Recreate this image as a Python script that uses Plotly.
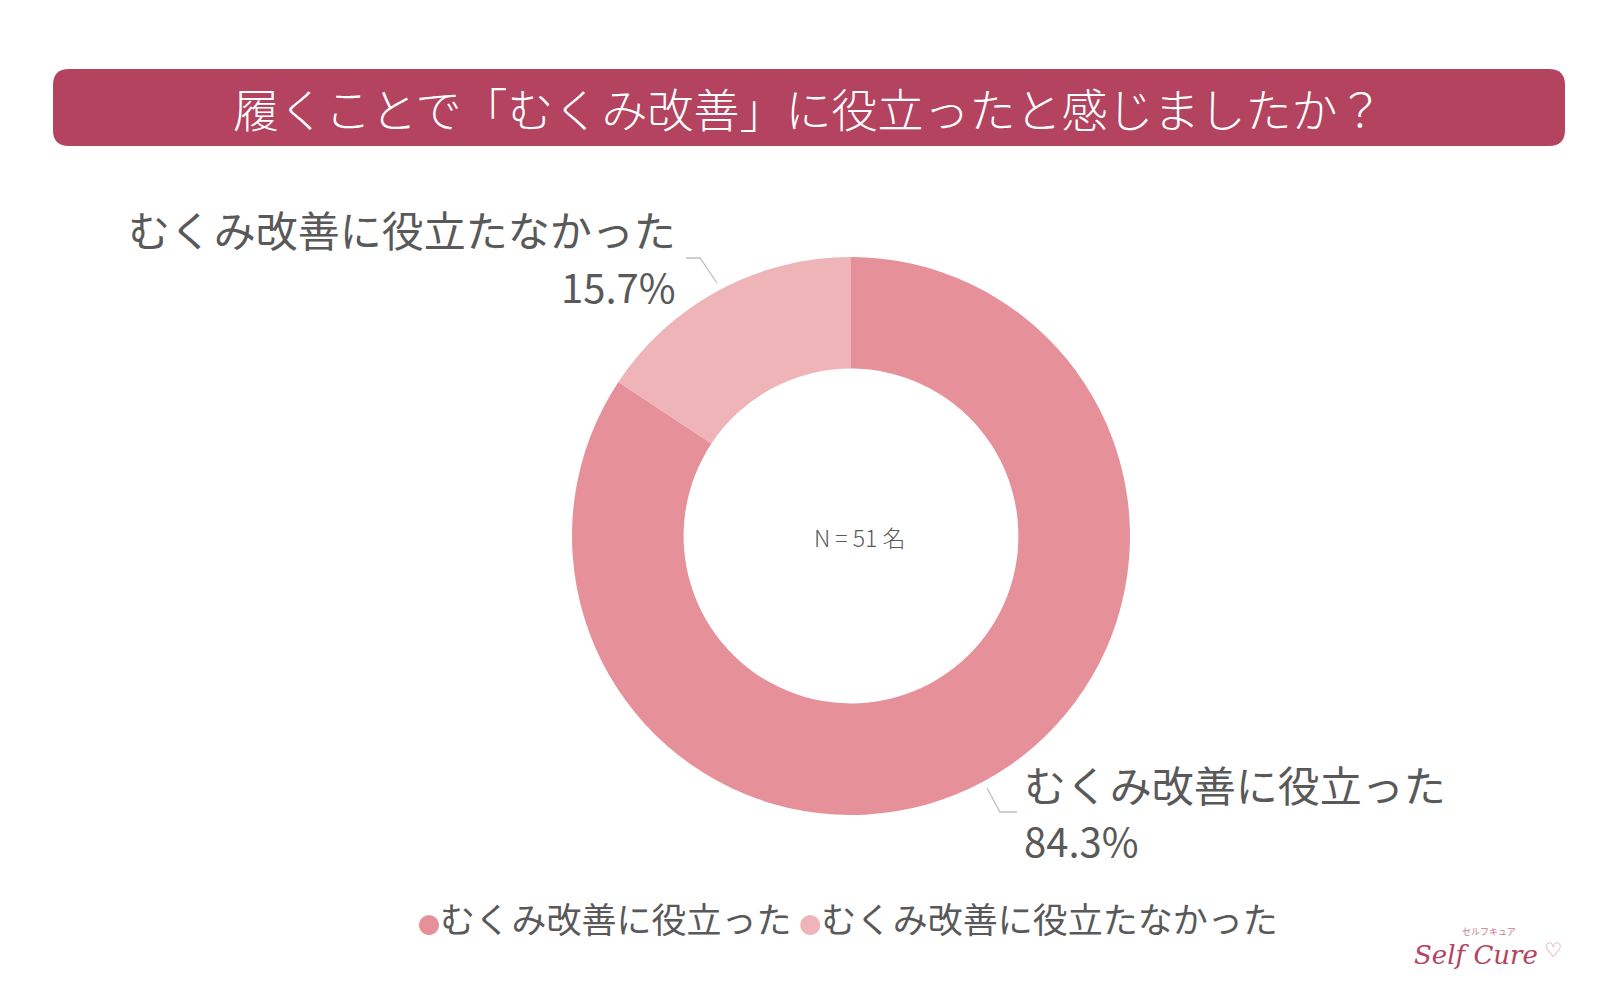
import plotly.graph_objects as go

W, H = 1618, 1000

title_text = "履くことで「むくみ改善」に役立ったと感じましたか？"
categories = ["むくみ改善に役立った", "むくみ改善に役立たなかった"]
counts = [43, 8]
colors = ["#E6919A", "#EFB4B8"]
n_label = "N = 51 名"

total = sum(counts)
pcts = [c / total * 100 for c in counts]


def px(x):
    return x / W


def py(y):
    return 1 - y / H


fig = go.Figure()

cx, cy, R = 851, 536, 279
fig.add_trace(go.Pie(
    labels=categories,
    values=counts,
    hole=0.60,
    sort=False,
    direction="clockwise",
    rotation=0,
    marker=dict(colors=colors, line=dict(width=0)),
    textinfo="none",
    hoverinfo="label+percent",
    showlegend=False,
    domain=dict(x=[px(cx - R), px(cx + R)], y=[py(cy + R), py(cy - R)]),
))

shapes = []
# rounded title bar
x0, x1, y0, y1, r = 53, 1565, 69, 146, 16
path = (
    f"M {px(x0 + r)},{py(y0)} L {px(x1 - r)},{py(y0)} "
    f"Q {px(x1)},{py(y0)} {px(x1)},{py(y0 + r)} "
    f"L {px(x1)},{py(y1 - r)} Q {px(x1)},{py(y1)} {px(x1 - r)},{py(y1)} "
    f"L {px(x0 + r)},{py(y1)} Q {px(x0)},{py(y1)} {px(x0)},{py(y1 - r)} "
    f"L {px(x0)},{py(y0 + r)} Q {px(x0)},{py(y0)} {px(x0 + r)},{py(y0)} Z"
)
shapes.append(dict(type="path", xref="paper", yref="paper", path=path,
                   fillcolor="#B3435F", line=dict(width=0), layer="below"))

# leader lines
lc = "#BFBFBF"
shapes.append(dict(type="path", xref="paper", yref="paper",
                   path=f"M {px(686)},{py(258)} L {px(700)},{py(258)} L {px(717)},{py(283)}",
                   line=dict(color=lc, width=1.3)))
shapes.append(dict(type="path", xref="paper", yref="paper",
                   path=f"M {px(987)},{py(788)} L {px(1000)},{py(812)} L {px(1017)},{py(812)}",
                   line=dict(color=lc, width=1.3)))

font_jp = "Noto Sans CJK JP, Noto Sans, sans-serif"
txt = "#595959"

ann = []
ann.append(dict(x=px(808), y=py(107), xref="paper", yref="paper", text=title_text,
                showarrow=False, font=dict(family=font_jp, size=46, color="white", weight=300),
                xanchor="center", yanchor="middle"))

# data labels
ann.append(dict(x=px(678), y=py(229), xref="paper", yref="paper",
                text=categories[1], showarrow=False,
                font=dict(family=font_jp, size=42, color=txt),
                xanchor="right", yanchor="middle"))
ann.append(dict(x=px(678), y=py(286), xref="paper", yref="paper",
                text=f"{pcts[1]:.1f}%", showarrow=False,
                font=dict(family=font_jp, size=40, color=txt),
                xanchor="right", yanchor="middle"))
ann.append(dict(x=px(1022), y=py(783), xref="paper", yref="paper",
                text=categories[0], showarrow=False,
                font=dict(family=font_jp, size=42, color=txt),
                xanchor="left", yanchor="middle"))
ann.append(dict(x=px(1022), y=py(840), xref="paper", yref="paper",
                text=f"{pcts[0]:.1f}%", showarrow=False,
                font=dict(family=font_jp, size=40, color=txt),
                xanchor="left", yanchor="middle"))

# center text
ann.append(dict(x=px(859), y=py(537), xref="paper", yref="paper", text=n_label,
                showarrow=False, font=dict(family=font_jp, size=23, color=txt, weight=300),
                xanchor="center", yanchor="middle"))

# legend
leg = " ".join(
    f"<span style='color:{c};font-size:22px'>●</span>{lab}"
    for lab, c in zip(categories, colors)
)
ann.append(dict(x=px(848), y=py(917), xref="paper", yref="paper", text=leg,
                showarrow=False, font=dict(family=font_jp, size=35, color=txt),
                xanchor="center", yanchor="middle"))

# logo
ann.append(dict(x=px(1489), y=py(931), xref="paper", yref="paper", text="セルフキュア",
                showarrow=False, font=dict(family=font_jp, size=9, color="#C9798B"),
                xanchor="center", yanchor="middle"))
ann.append(dict(x=px(1476), y=py(955), xref="paper", yref="paper", text="<i>Self Cure</i>",
                showarrow=False, font=dict(family="DejaVu Serif, serif", size=26, color="#B3435F"),
                xanchor="center", yanchor="middle"))
ann.append(dict(x=px(1553), y=py(950), xref="paper", yref="paper", text="♡",
                showarrow=False, font=dict(family="DejaVu Sans, sans-serif", size=20, color="#D98AA0"),
                xanchor="center", yanchor="middle"))

fig.update_layout(
    width=W, height=H,
    margin=dict(l=0, r=0, t=0, b=0),
    paper_bgcolor="white", plot_bgcolor="white",
    shapes=shapes, annotations=ann,
)

fig.write_html("out.html")
